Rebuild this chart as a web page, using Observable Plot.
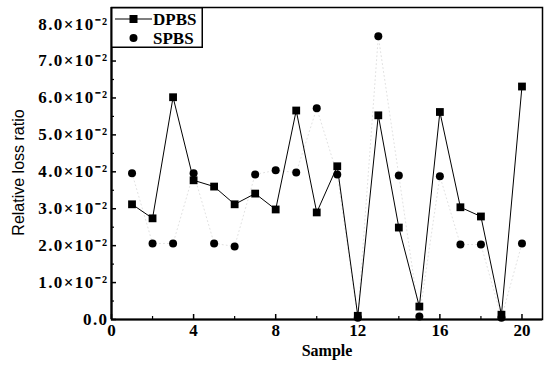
<!DOCTYPE html>
<html><head><meta charset="utf-8">
<script src="https://cdn.jsdelivr.net/npm/d3@7"></script>
<script src="https://cdn.jsdelivr.net/npm/@observablehq/plot@0.6"></script>
<style>
body{margin:0;background:#fff;}
#wrap{position:relative;width:546px;height:365px;}
#legend{position:absolute;left:111px;top:7px;}
</style></head><body><div id="wrap"></div>
<script>
const samples = [1,2,3,4,5,6,7,8,9,10,11,12,13,14,15,16,17,18,19,20];
const dpbs = [0.0312,0.0274,0.0602,0.0377,0.0360,0.0312,0.0341,0.0298,0.0566,0.0290,0.0415,0.0010,0.0553,0.0249,0.0035,0.0562,0.0304,0.0279,0.0013,0.0631];
const spbs = [0.0396,0.0206,0.0206,0.0396,0.0206,0.0198,0.0393,0.0404,0.0398,0.0572,0.0393,0.0005,0.0767,0.0390,0.0008,0.0388,0.0203,0.0203,0.0005,0.0206];
const yTicks = [0,0.01,0.02,0.03,0.04,0.05,0.06,0.07,0.08];
const yMinor = [0.005,0.015,0.025,0.035,0.045,0.055,0.065,0.075];
const xTicks = [0,4,8,12,16,20];
const xMinor = [2,6,10,14,18];
const seriesNames = ["DPBS","SPBS"];

const dRows = samples.map((s,i)=>({sample:s, value:dpbs[i]}));
const sRows = samples.map((s,i)=>({sample:s, value:spbs[i]}));

const serif = "'Liberation Serif', 'Times New Roman', serif";
const sans = "'Liberation Sans', Arial, sans-serif";
const fmt = v => v === 0 ? "0.0" : (v*100).toFixed(1) + "\u00D710\u207B\u00B2";

const chart = Plot.plot({
  width: 546, height: 365,
  marginLeft: 111, marginRight: 4, marginTop: 7, marginBottom: 46,
  style: {fontFamily: serif, fontSize: "16px", fontWeight: "bold", background: "#fff", color: "#000"},
  x: {domain: [0, 21.0]},
  y: {domain: [0, 0.0845]},
  marks: [
    Plot.frame({stroke: "#000", strokeWidth: 1.5}),
    Plot.line(sRows, {x: "sample", y: "value", stroke: "#d8d8d8", strokeWidth: 0.8, strokeDasharray: "1,3"}),
    Plot.line(dRows, {x: "sample", y: "value", stroke: "#000", strokeWidth: 1}),
    Plot.dot(dRows, {x: "sample", y: "value", symbol: "square", r: 4.4, fill: "#000", stroke: null}),
    Plot.dot(sRows, {x: "sample", y: "value", r: 4, fill: "#000", stroke: null}),
    Plot.axisY({ticks: yTicks, tickSize: 0, tickPadding: 3, tickFormat: fmt, label: null, fontSize: 17, fontWeight: "bold"}),
    Plot.axisY({ticks: yTicks, tickSize: -5, text: null, label: null, strokeWidth: 1.5}),
    Plot.axisY({ticks: yMinor, tickSize: -3, text: null, label: null, strokeWidth: 1.2}),
    Plot.axisX({ticks: xTicks, tickSize: 0, tickPadding: 4, label: null, fontSize: 17, fontWeight: "bold"}),
    Plot.axisX({ticks: xTicks, tickSize: -5, text: null, label: null, strokeWidth: 1.5}),
    Plot.axisX({ticks: xMinor, tickSize: -3, text: null, label: null, strokeWidth: 1.2}),
    Plot.ruleX([0], {stroke: "#000", strokeWidth: 2.2}),
    Plot.ruleY([0], {stroke: "#000", strokeWidth: 2.2}),
    Plot.text(["Relative loss ratio"], {frameAnchor: "left", textAnchor: "middle", rotate: -90, dx: -93, dy: 9, fontFamily: sans, fontWeight: "normal", fontSize: 16, fill: "#000"}),
    Plot.text(["Sample"], {frameAnchor: "bottom", dy: 36, fontFamily: serif, fontWeight: "bold", fontSize: 16, fill: "#000"})
  ]
});

document.getElementById("wrap").appendChild(chart);

// force serif face on tick labels; slight letter spacing on y tick labels
d3.select(chart).selectAll('g[aria-label="y-axis tick label"] text, g[aria-label="x-axis tick label"] text')
  .style("font-family", serif).style("font-weight", "bold");
d3.select(chart).selectAll('g[aria-label="y-axis tick label"] text').attr("letter-spacing", "1.4px");

// legend
const lg = d3.select("#wrap").append("svg").attr("id","legend").attr("width", 92).attr("height", 41);
lg.append("rect").attr("x",0.75).attr("y",0.75).attr("width",90.5).attr("height",39.5).attr("fill","#fff").attr("stroke","#000").attr("stroke-width",1.5);
lg.append("line").attr("x1",4).attr("x2",41).attr("y1",12).attr("y2",12).attr("stroke","#000").attr("stroke-width",1.2);
lg.append("rect").attr("x",18.5).attr("y",8).attr("width",8).attr("height",8).attr("fill","#000");
lg.append("circle").attr("cx",22.5).attr("cy",31).attr("r",4).attr("fill","#000");
lg.selectAll("text.lab").data(seriesNames).join("text").attr("class","lab")
  .attr("x",42).attr("y",(d,i)=>i===0?17.5:37)
  .attr("font-family",serif).attr("font-weight","bold").attr("font-size","17px").text(d=>d);
</script></body></html>
